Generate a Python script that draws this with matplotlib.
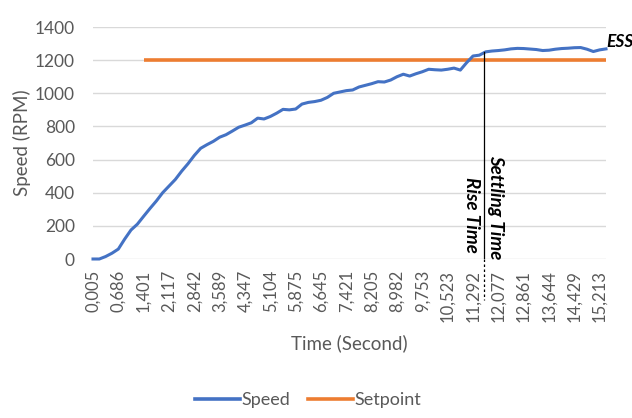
import numpy as np
import matplotlib
matplotlib.use("Agg")
import matplotlib.pyplot as plt
from matplotlib.lines import Line2D

# ---- data ----
time_labels = ["0,005", "0,686", "1,401", "2,117", "2,842", "3,589", "4,347",
               "5,104", "5,875", "6,645", "7,421", "8,205", "8,982", "9,753",
               "10,523", "11,292", "12,077", "12,861", "13,644", "14,429", "15,213"]
samples_per_label = 4

speed = [0, 0, 15, 35, 60, 120, 175, 210, 258, 305,
         350, 400, 440, 480, 530, 575, 625, 668, 690, 710,
         735, 750, 772, 795, 808, 822, 850, 845, 860, 880,
         903, 900, 905, 935, 945, 950, 958, 975, 1000, 1008,
         1016, 1020, 1038, 1048, 1058, 1070, 1068, 1080, 1100, 1115,
         1104, 1118, 1130, 1145, 1142, 1140, 1145, 1152, 1140, 1185,
         1225, 1230, 1250, 1255, 1258, 1262, 1268, 1271, 1270, 1267,
         1264, 1258, 1260, 1266, 1270, 1272, 1275, 1276, 1266, 1252,
         1262, 1268]
setpoint_value = 1200
setpoint_start_label = "1,401"
settling_sample = 61.7

# ---- figure ----
plt.rcParams['font.family'] = ['Lato', 'DejaVu Sans']
fig = plt.figure(figsize=(6.32, 4.18), dpi=100)
ax = fig.add_axes([93/632, 1-259/418, (606-93)/632, (259-27)/418])

x = np.arange(len(speed))
sp_start = time_labels.index(setpoint_start_label) * samples_per_label
sp_x = x[sp_start:]
sp_y = np.full(len(sp_x), setpoint_value)

ax.plot(sp_x, sp_y, color='#ED7D31', lw=2.6, solid_capstyle='butt', zorder=3, clip_on=False)
ax.plot(x, speed, color='#4472C4', lw=2.2, zorder=4, clip_on=False)

ax.set_xlim(0, len(speed) - 1)
ax.set_ylim(0, 1400)
ax.set_yticks(np.arange(0, 1401, 200))
ax.set_xticks(np.arange(len(time_labels)) * samples_per_label)
ax.set_xticklabels(time_labels, rotation=90)

ax.grid(axis='y', color='#d9d9d9', lw=1)
ax.set_axisbelow(True)
for s in ax.spines.values():
    s.set_visible(False)
ax.tick_params(length=0, colors='#595959', labelsize=12)
ax.tick_params(axis='y', labelsize=12.5, pad=13)
ax.tick_params(axis='x', pad=8)

ax.set_ylabel("Speed (RPM)", color='#595959', fontsize=13.5, labelpad=3)
ax.set_xlabel("Time (Second)", color='#595959', fontsize=13.5, labelpad=9)

# settling / rise time marker
ax.plot([settling_sample, settling_sample], [1250, 0], color='black', lw=0.9, zorder=5)
ax.plot([settling_sample, settling_sample], [0, -250], color='black', lw=0.9,
        ls=(0, (2, 2)), clip_on=False, zorder=5)
ax.text(settling_sample + 1.8, 0, "Settling Time", rotation=270, ha='center', va='bottom',
        fontsize=13.5, fontweight='bold', fontstyle='italic', color='black')
ax.text(settling_sample - 2.0, 35, "Rise Time", rotation=270, ha='center', va='bottom',
        fontsize=13.5, fontweight='bold', fontstyle='italic', color='black')
ax.text(len(speed) - 1, speed[-1] + 40, "ESS", ha='left', va='center',
        fontsize=12.5, fontweight='bold', fontstyle='italic', color='black', clip_on=False)

handles = [Line2D([], [], color='#4472C4', lw=2.6),
           Line2D([], [], color='#ED7D31', lw=2.6)]
fig.legend(handles, ["Speed", "Setpoint"], loc='center', bbox_to_anchor=(308/632, 1-400/418),
           ncol=2, frameon=False, handlelength=2.5, handletextpad=0.05, columnspacing=1.0,
           fontsize=13, labelcolor='#595959')

fig.savefig("out.png", dpi=100)
